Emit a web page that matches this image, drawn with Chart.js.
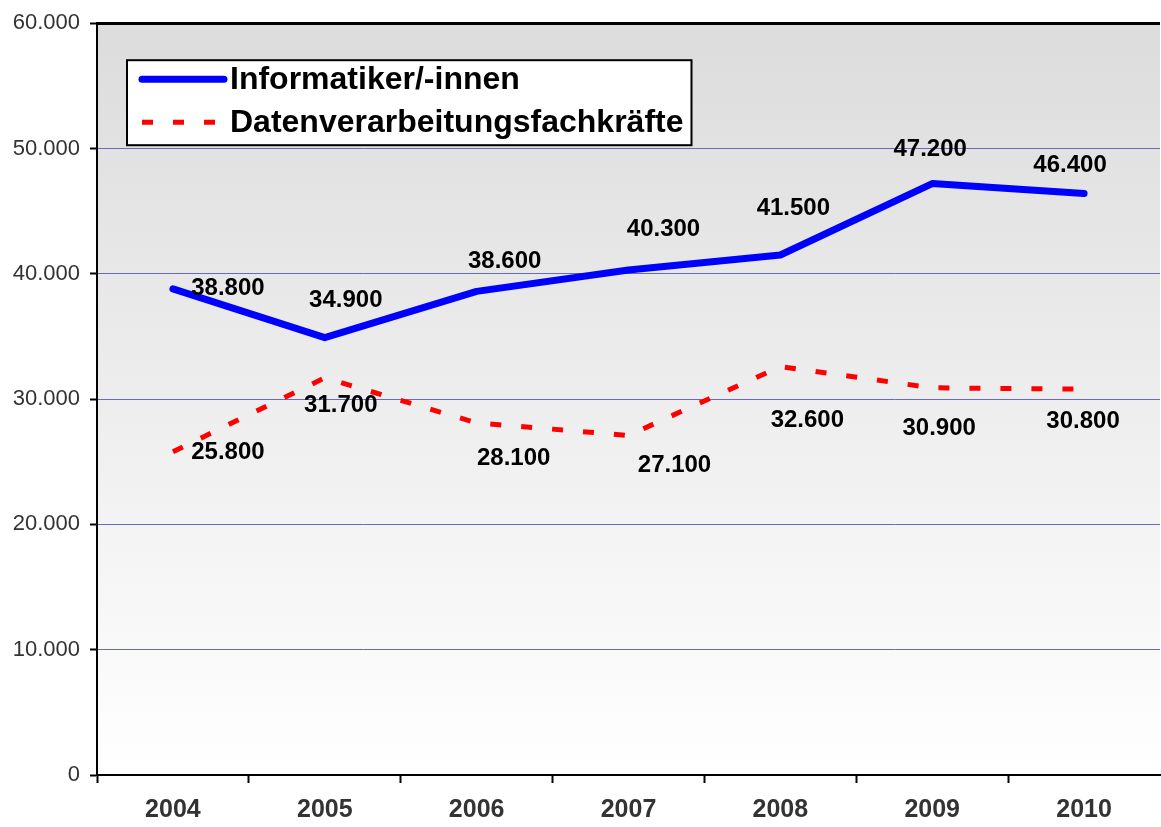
<!DOCTYPE html>
<html>
<head>
<meta charset="utf-8">
<script src="https://cdn.jsdelivr.net/npm/chart.js@4.4.1/dist/chart.umd.min.js"></script>
<style>
  html, body { margin: 0; padding: 0; background: #fff; }
  #wrap { width: 1161px; height: 827px; }
</style>
</head>
<body>
<div id="wrap"><canvas id="myChart" width="1161" height="827"></canvas></div>
<script>
var years = ['2004', '2005', '2006', '2007', '2008', '2009', '2010'];
var informatiker = [38800, 34900, 38600, 40300, 41500, 47200, 46400];
var datenverarbeitung = [25800, 31700, 28100, 27100, 32600, 30900, 30800];
var yTicks = [0, 10000, 20000, 30000, 40000, 50000, 60000];

function fmt(v) {
  // German thousands separator
  return String(Math.round(v)).replace(/\B(?=(\d{3})+(?!\d))/g, '.');
}

// gradient background of the plot area
var plotBackground = {
  id: 'plotBackground',
  beforeDraw: function (chart) {
    var a = chart.chartArea, ctx = chart.ctx;
    var g = ctx.createLinearGradient(0, a.top, 0, a.bottom);
    g.addColorStop(0, '#dcdcdc');
    g.addColorStop(1, '#ffffff');
    ctx.save();
    ctx.fillStyle = g;
    ctx.fillRect(a.left, a.top, a.right - a.left, a.bottom - a.top);
    ctx.restore();
  }
};

// value labels next to each point
var valueLabels = {
  id: 'valueLabels',
  afterDatasetsDraw: function (chart, args, opts) {
    var ctx = chart.ctx;
    ctx.save();
    ctx.font = 'bold 24px "Liberation Sans", Arial, sans-serif';
    ctx.fillStyle = '#000';
    ctx.textAlign = 'center';
    ctx.textBaseline = 'middle';
    chart.data.datasets.forEach(function (ds, i) {
      var meta = chart.getDatasetMeta(i);
      var offs = opts.offsets[i];
      meta.data.forEach(function (pt, j) {
        ctx.fillText(fmt(ds.data[j]), pt.x + offs[j][0], pt.y + offs[j][1]);
      });
    });
    ctx.restore();
  }
};

// boxed legend inside the plot area
var boxLegend = {
  id: 'boxLegend',
  afterDraw: function (chart) {
    var a = chart.chartArea, ctx = chart.ctx;
    var x = a.left + 30, y = a.top + 37;
    ctx.save();
    ctx.font = 'bold 32px "Liberation Sans", Arial, sans-serif';
    var w = 0;
    chart.data.datasets.forEach(function (ds) {
      w = Math.max(w, ctx.measureText(ds.label).width);
    });
    var boxW = 103 + w + 8, boxH = 85;
    ctx.fillStyle = '#fff';
    ctx.fillRect(x, y, boxW, boxH);
    ctx.strokeStyle = '#000';
    ctx.lineWidth = 2;
    ctx.strokeRect(x, y, boxW, boxH);
    chart.data.datasets.forEach(function (ds, i) {
      var cy = y + 19 + i * 43;
      ctx.beginPath();
      ctx.strokeStyle = ds.borderColor;
      ctx.lineWidth = ds.borderWidth;
      ctx.lineCap = ds.borderCapStyle || 'butt';
      ctx.setLineDash(ds.borderDash || []);
      ctx.moveTo(x + 15, cy);
      ctx.lineTo(x + 97, cy);
      ctx.stroke();
      ctx.setLineDash([]);
      ctx.fillStyle = '#000';
      ctx.textAlign = 'left';
      ctx.textBaseline = 'middle';
      ctx.fillText(ds.label, x + 103, cy + 1);
    });
    ctx.restore();
  }
};

var ctx = document.getElementById('myChart').getContext('2d');
var chart = new Chart(ctx, {
  type: 'line',
  data: {
    labels: years,
    datasets: [{
      label: 'Informatiker/-innen',
      data: informatiker,
      borderColor: '#0000ff',
      borderWidth: 7,
      borderCapStyle: 'round',
      borderJoinStyle: 'round',
      pointRadius: 0,
      tension: 0
    },
    {
      label: 'Datenverarbeitungsfachkräfte',
      data: datenverarbeitung,
      borderColor: '#ff0000',
      borderWidth: 5,
      borderDash: [11, 20],
      pointRadius: 0,
      tension: 0
    }]
  },
  plugins: [plotBackground, valueLabels, boxLegend],
  options: {
    responsive: false,
    animation: false,
    layout: { padding: { top: 22, right: 1, left: 0, bottom: 0 } },
    plugins: {
      legend: { display: false },
      tooltip: { enabled: false },
      valueLabels: {
        offsets: [
          [[55, 0], [21, -37], [28, -30], [35, -41], [13, -47], [-2, -34], [-14, -28]],
          [[55, 1], [16, 28], [37, 35], [46, 30], [27, 54], [7, 41], [-1, 32]]
        ]
      }
    },
    scales: {
      x: {
        offset: true,
        afterFit: function (s) { s.height = 52; },
        grid: {
          offset: true,
          drawOnChartArea: false,
          tickLength: 8,
          // no tick mark at the far right end
          tickColor: function (c) { return c.tick ? '#000' : 'rgba(0,0,0,0)'; },
          tickWidth: 2
        },
        border: { color: '#000', width: 2 },
        ticks: {
          color: '#333',
          padding: 12,
          font: { family: '"Liberation Sans", Arial, sans-serif', size: 25, weight: 'bold' }
        }
      },
      y: {
        min: 0,
        max: 60000,
        afterFit: function (s) { s.width = 97; },
        afterBuildTicks: function (s) {
          s.ticks = yTicks.map(function (v) { return { value: v }; });
        },
        grid: {
          color: function (c) { return c.tick && c.tick.value === 60000 ? '#000' : '#6a6abb'; },
          lineWidth: function (c) { return c.tick && c.tick.value === 60000 ? 3 : 1; },
          tickLength: 7,
          tickColor: '#000',
          tickWidth: 2
        },
        border: { color: '#000', width: 2 },
        ticks: {
          color: '#333',
          padding: 10,
          font: { family: '"Liberation Sans", Arial, sans-serif', size: 22 },
          callback: function (v) { return v === 0 ? '0' : fmt(v); }
        }
      }
    }
  }
});
</script>
</body>
</html>
